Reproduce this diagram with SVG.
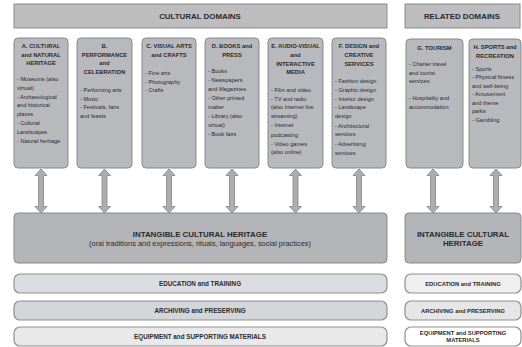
<svg xmlns="http://www.w3.org/2000/svg" width="522" height="347" viewBox="0 0 522 347">
<style>
text{font-family:"Liberation Sans",Arial,sans-serif;fill:#2a2a2a}
.hdr{fill:#bdbdbf;stroke:#8a8a8a;stroke-width:1}
.dom{fill:#b7b9bd;stroke:#8a8a8a;stroke-width:1}
.ich{fill:#b3b4b8;stroke:#8a8a8a;stroke-width:1}
.edu{fill:#dcdde0;stroke:#8f8f8f;stroke-width:1.2}
.arc{fill:#d3d5d8;stroke:#8f8f8f;stroke-width:1.2}
.equ{fill:#e9e9e9;stroke:#8f8f8f;stroke-width:1.2}
.edu2{fill:#efefef;stroke:#8f8f8f;stroke-width:1.2}
.arc2{fill:#e6e6e6;stroke:#8f8f8f;stroke-width:1.2}
.equ2{fill:#ffffff;stroke:#8f8f8f;stroke-width:1.2}
.t1{font-size:7.9px;font-weight:bold;text-anchor:middle}
.tt{font-size:5.8px;font-weight:bold;text-anchor:middle}
.it{font-size:5.6px}
.sub{font-size:7.4px;text-anchor:middle}
.bt{font-size:6.3px;font-weight:bold;text-anchor:middle}
.bs{font-size:5.8px;font-weight:bold;text-anchor:middle}
.arr{fill:#adadad;stroke:#858585;stroke-width:0.8}
</style>
<rect width="522" height="347" fill="#ffffff"/>

<g id="cultural-domains">
<rect class="hdr" x="14" y="4" width="373" height="24"/>
<text class="t1" x="200" y="18.8">CULTURAL DOMAINS</text>
</g>
<g id="related-domains">
<rect class="hdr" x="405" y="4" width="115" height="24"/>
<text class="t1" x="462" y="18.8">RELATED DOMAINS</text>
</g>

<g id="domain-a">
<rect class="dom" x="14" y="38" width="54" height="130" rx="4"/>
<text class="tt" x="41" y="48">A. CULTURAL</text>
<text class="tt" x="41" y="56.5">and NATURAL</text>
<text class="tt" x="41" y="65">HERITAGE</text>
<text class="it" x="17" y="81">- Museums (also</text>
<text class="it" x="17" y="89.5">virtual)</text>
<text class="it" x="17" y="98.5">- Archaeological</text>
<text class="it" x="17" y="107">and historical</text>
<text class="it" x="17" y="116">places</text>
<text class="it" x="17" y="125">- Cultural</text>
<text class="it" x="17" y="134">Landscapes</text>
<text class="it" x="17" y="143">- Natural heritage</text>
</g>
<g id="domain-b">
<rect class="dom" x="77" y="38" width="55" height="130" rx="4"/>
<text class="tt" x="104.5" y="48">B.</text>
<text class="tt" x="104.5" y="56.5">PERFORMANCE</text>
<text class="tt" x="104.5" y="65">and</text>
<text class="tt" x="104.5" y="73.5">CELEBRATION</text>
<text class="it" x="80" y="92">- Performing arts</text>
<text class="it" x="80" y="100.5">- Music</text>
<text class="it" x="80" y="109">- Festivals, fairs</text>
<text class="it" x="80" y="117.5">and feasts</text>
</g>
<g id="domain-c">
<rect class="dom" x="142" y="38" width="54" height="130" rx="4"/>
<text class="tt" x="169" y="48">C. VISUAL ARTS</text>
<text class="tt" x="169" y="56.5">and CRAFTS</text>
<text class="it" x="145" y="75">- Fine arts</text>
<text class="it" x="145" y="83.5">- Photography</text>
<text class="it" x="145" y="92">- Crafts</text>
</g>
<g id="domain-d">
<rect class="dom" x="205" y="38" width="54" height="130" rx="4"/>
<text class="tt" x="232" y="48">D. BOOKS and</text>
<text class="tt" x="232" y="56.5">PRESS</text>
<text class="it" x="208" y="73">- Books</text>
<text class="it" x="208" y="82">- Newspapers</text>
<text class="it" x="208" y="90.5">and Magazines</text>
<text class="it" x="208" y="99.5">- Other printed</text>
<text class="it" x="208" y="108.5">matter</text>
<text class="it" x="208" y="118">- Library (also</text>
<text class="it" x="208" y="127">virtual)</text>
<text class="it" x="208" y="136">- Book fairs</text>
</g>
<g id="domain-e">
<rect class="dom" x="268" y="38" width="55" height="130" rx="4"/>
<text class="tt" x="295.5" y="48">E. AUDIO-VISUAL</text>
<text class="tt" x="295.5" y="56.5">and</text>
<text class="tt" x="295.5" y="65.5">INTERACTIVE</text>
<text class="tt" x="295.5" y="74">MEDIA</text>
<text class="it" x="271" y="92">- Film and video</text>
<text class="it" x="271" y="100.5">- TV and radio</text>
<text class="it" x="271" y="109">(also Internet live</text>
<text class="it" x="271" y="118">streaming)</text>
<text class="it" x="271" y="127">- Internet</text>
<text class="it" x="271" y="136.5">podcasting</text>
<text class="it" x="271" y="145.5">- Video games</text>
<text class="it" x="271" y="154">(also online)</text>
</g>
<g id="domain-f">
<rect class="dom" x="332" y="38" width="54" height="130" rx="4"/>
<text class="tt" x="359" y="48">F. DESIGN and</text>
<text class="tt" x="359" y="56.5">CREATIVE</text>
<text class="tt" x="359" y="65.5">SERVICES</text>
<text class="it" x="335" y="83">- Fashion design</text>
<text class="it" x="335" y="92">- Graphic design</text>
<text class="it" x="335" y="100.5">- Interior design</text>
<text class="it" x="335" y="109">- Landscape</text>
<text class="it" x="335" y="118">design</text>
<text class="it" x="335" y="127.5">- Architectural</text>
<text class="it" x="335" y="136">services</text>
<text class="it" x="335" y="145.5">- Advertising</text>
<text class="it" x="335" y="154.5">services</text>
</g>
<g id="domain-g">
<rect class="dom" x="406" y="39" width="57" height="129" rx="4"/>
<text class="tt" x="434.5" y="50">G. TOURISM</text>
<text class="it" x="409" y="66">- Charter travel</text>
<text class="it" x="409" y="74.5">and tourist</text>
<text class="it" x="409" y="83">services</text>
<text class="it" x="409" y="100">- Hospitality and</text>
<text class="it" x="409" y="108.5">accommodation</text>
</g>
<g id="domain-h">
<rect class="dom" x="469" y="39" width="52" height="129" rx="4"/>
<text class="tt" x="495" y="49">H. SPORTS and</text>
<text class="tt" x="495" y="57.5">RECREATION</text>
<text class="it" x="472" y="71">- Sports</text>
<text class="it" x="472" y="79">- Physical fitness</text>
<text class="it" x="472" y="87.5">and well-being</text>
<text class="it" x="472" y="96">- Amusement</text>
<text class="it" x="472" y="104.5">and theme</text>
<text class="it" x="472" y="113">parks</text>
<text class="it" x="472" y="121.5">- Gambling</text>
</g>

<g id="connectors">
<polygon class="arr" points="41,169 47,175.5 43.5,175.5 43.5,206.5 47,206.5 41,213 35,206.5 38.5,206.5 38.5,175.5 35,175.5"/>
<polygon class="arr" points="104.5,169 110.5,175.5 107,175.5 107,206.5 110.5,206.5 104.5,213 98.5,206.5 102,206.5 102,175.5 98.5,175.5"/>
<polygon class="arr" points="169,169 175,175.5 171.5,175.5 171.5,206.5 175,206.5 169,213 163,206.5 166.5,206.5 166.5,175.5 163,175.5"/>
<polygon class="arr" points="232,169 238,175.5 234.5,175.5 234.5,206.5 238,206.5 232,213 226,206.5 229.5,206.5 229.5,175.5 226,175.5"/>
<polygon class="arr" points="295.5,169 301.5,175.5 298,175.5 298,206.5 301.5,206.5 295.5,213 289.5,206.5 293,206.5 293,175.5 289.5,175.5"/>
<polygon class="arr" points="359,169 365,175.5 361.5,175.5 361.5,206.5 365,206.5 359,213 353,206.5 356.5,206.5 356.5,175.5 353,175.5"/>
<polygon class="arr" points="433,169 439,175.5 435.5,175.5 435.5,206.5 439,206.5 433,213 427,206.5 430.5,206.5 430.5,175.5 427,175.5"/>
<polygon class="arr" points="496,169 502,175.5 498.5,175.5 498.5,206.5 502,206.5 496,213 490,206.5 493.5,206.5 493.5,175.5 490,175.5"/>
</g>

<g id="ich-main">
<rect class="ich" x="14" y="213" width="373" height="50" rx="4"/>
<text class="t1" x="200" y="236.5">INTANGIBLE CULTURAL HERITAGE</text>
<text class="sub" x="200" y="246">(oral traditions and expressions, rituals, languages, social practices)</text>
</g>
<g id="ich-related">
<rect class="ich" x="405" y="213" width="116" height="50" rx="4"/>
<text class="t1" x="463" y="236.5">INTANGIBLE CULTURAL</text>
<text class="t1" x="463" y="246">HERITAGE</text>
</g>

<g id="education-main">
<rect class="edu" x="14" y="274" width="373" height="19" rx="6"/>
<text class="bt" x="200" y="285.8">EDUCATION and TRAINING</text>
</g>
<g id="archiving-main">
<rect class="arc" x="14" y="301" width="373" height="19" rx="6"/>
<text class="bt" x="200" y="312.8">ARCHIVING and PRESERVING</text>
</g>
<g id="equipment-main">
<rect class="equ" x="14" y="327" width="373" height="19" rx="6"/>
<text class="bt" x="200" y="338.8">EQUIPMENT and SUPPORTING MATERIALS</text>
</g>
<g id="education-related">
<rect class="edu2" x="405" y="274" width="116" height="19" rx="6"/>
<text class="bs" x="463" y="285.5">EDUCATION and TRAINING</text>
</g>
<g id="archiving-related">
<rect class="arc2" x="405" y="301" width="116" height="19" rx="6"/>
<text class="bs" x="463" y="312.5">ARCHIVING and PRESERVING</text>
</g>
<g id="equipment-related">
<rect class="equ2" x="405" y="327" width="116" height="19" rx="6"/>
<text class="bs" x="463" y="335">EQUIPMENT and SUPPORTING</text>
<text class="bs" x="463" y="342">MATERIALS</text>
</g>
</svg>
